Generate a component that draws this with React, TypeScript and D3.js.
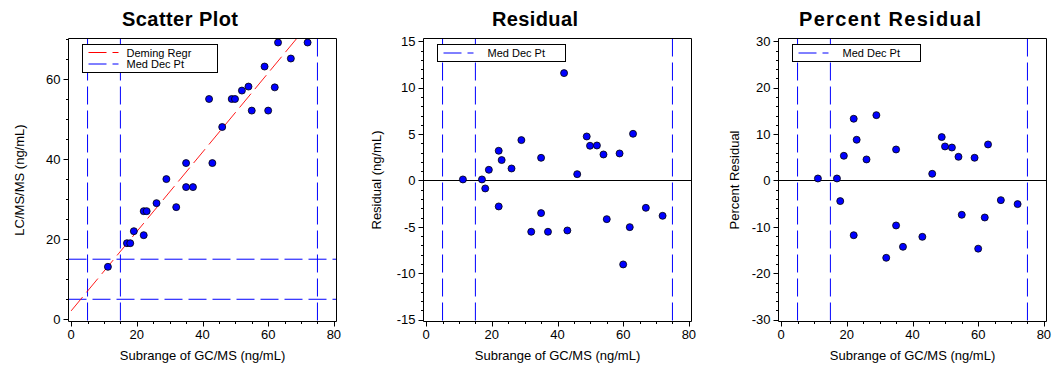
import React from 'react';
import * as d3 from 'd3';

// ---- data ----
const xValues = [11.2, 17.0, 18.0, 19.1, 22.1, 22.1, 23.0, 26.0, 29.0, 32.0, 35.0, 35.0, 37.1, 42.0, 43.0, 46.0, 48.9, 49.9, 52.0, 54.0, 55.0, 58.9, 60.0, 62.0, 63.0, 66.9, 72.0];
const lcmsValues = [13.1, 19, 19, 22, 21, 27, 27, 29, 35, 28, 39, 33, 33, 55, 39, 48, 55, 55, 57.1, 58.1, 52.1, 63.1, 52.1, 57.9, 69.1, 65.1, 69.1];
const residualValues = [0.11, 0.11, -0.86, 1.15, -2.8, 3.2, 2.2, 1.29, 4.35, -5.53, 2.44, -3.52, -5.53, 11.57, -5.39, 0.68, 4.74, 3.74, 3.77, 2.8, -4.17, 2.91, -9.05, -5.03, 5.03, -2.95, -3.81];
const pctResidualValues: (number | null)[] = [0.43, 0.43, -4.45, 5.32, -11.8, 13.3, 8.77, 4.53, 14.08, -16.67, 6.68, -9.7, -14.3, null, -12.15, 1.44, 9.35, 7.33, 7.1, 5.1, -7.4, 4.89, -14.7, -7.98, 7.76, -4.24, -5.1];

const demingIntercept = 2.1;
const demingSlope = 0.99;
const medDecPts = [5, 15, 75];

const xTicks = [0, 20, 40, 60, 80];
const scatterYTicks = [0, 20, 40, 60];
const residualYTicks = [-15, -10, -5, 0, 5, 10, 15];
const pctYTicks = [-30, -20, -10, 0, 10, 20, 30];

const titles = ['Scatter Plot', 'Residual', 'Percent Residual'];
const yLabels = ['LC/MS/MS (ng/mL)', 'Residual (ng/mL)', 'Percent Residual'];
const xLabel = 'Subrange of GC/MS (ng/mL)';
const legendDeming = 'Deming Regr';
const legendMed = 'Med Dec Pt';

// ---- layout ----
const FONT = '"Liberation Sans", Arial, Helvetica, sans-serif';
const TOP = 38.5;
const BOTTOM = 321.5;
const FRAME_L = 68.5;
const FRAME_W = 268;
const DASH = '18,6';
const TITLE_WIDTHS = [116, 86, 182];

type PanelProps = {
  ox: number;
  idx: number;
  yDomain: [number, number];
  yTicks: number[];
  yMinor: number;
  yVals: (number | null)[];
  scatter?: boolean;
  zeroLine?: boolean;
  yLabelDx: number;
  legend: { w: number; h: number; textDx: number };
};

function Panel({ ox, idx, yDomain, yTicks, yMinor, yVals, scatter, zeroLine, yLabelDx, legend }: PanelProps) {
  const left = ox + FRAME_L;
  const right = left + FRAME_W;
  const x = d3.scaleLinear().domain([-0.8, 80.8]).range([left, right]);
  const y = d3.scaleLinear().domain(yDomain).range([BOTTOM, TOP]);
  const clipId = `clip${idx}`;
  const xMinor = d3.range(0, 81, 5).filter((v) => !xTicks.includes(v));
  const yMin = d3.range(Math.ceil(yDomain[0] / yMinor) * yMinor, yDomain[1] + 1e-9, yMinor).filter((v) => !yTicks.includes(v));
  const pts = xValues.map((xv, i) => ({ x: xv, y: yVals[i] })).filter((d) => d.y !== null) as { x: number; y: number }[];
  const deming = d3.line<number>().x((v) => x(v)).y((v) => y(demingIntercept + demingSlope * v));

  const lgX = left + 14;
  const lgY = 44.5;
  const rows = scatter
    ? [{ color: '#ff0000', label: legendDeming }, { color: '#0000ff', label: legendMed }]
    : [{ color: '#0000ff', label: legendMed }];

  return (
    <g>
      <defs>
        <clipPath id={clipId}>
          <rect x={left} y={TOP} width={FRAME_W} height={BOTTOM - TOP} />
        </clipPath>
      </defs>
      <text
        x={ox + 180}
        y={26}
        textAnchor="middle"
        fontFamily={FONT}
        fontSize={20}
        fontWeight="bold"
        textLength={TITLE_WIDTHS[idx]}
        lengthAdjust="spacing"
      >
        {titles[idx]}
      </text>
      <g clipPath={`url(#${clipId})`}>
        {medDecPts.map((v) => (
          <line key={'v' + v} x1={x(v)} x2={x(v)} y1={TOP} y2={BOTTOM} stroke="#0000ff" strokeWidth={1} strokeDasharray={DASH} />
        ))}
        {scatter &&
          medDecPts.map((v) => (
            <line key={'h' + v} x1={left} x2={right} y1={y(v)} y2={y(v)} stroke="#0000ff" strokeWidth={1} strokeDasharray={DASH} />
          ))}
        {zeroLine && <line x1={left} x2={right} y1={Math.round(y(0)) + 0.5} y2={Math.round(y(0)) + 0.5} stroke="#000" strokeWidth={1} />}
        {scatter && (
          <path d={deming([0, 80]) || ''} fill="none" stroke="#ff0000" strokeWidth={0.9} strokeDasharray={DASH} />
        )}
        {pts.map((d, i) => (
          <circle key={i} cx={x(d.x)} cy={y(d.y)} r={3.5} fill="#0000ff" stroke="#000" strokeWidth={0.8} />
        ))}
      </g>
      {/* legend */}
      <rect x={lgX} y={lgY} width={legend.w} height={legend.h} fill="#fff" stroke="#000" strokeWidth={1} />
      {rows.map((r, i) => {
        const cy = lgY + (scatter ? 8 + i * 11.5 : legend.h / 2);
        return (
          <g key={r.label}>
            <line x1={lgX + 6} x2={lgX + 36} y1={cy} y2={cy} stroke={r.color} strokeWidth={1} strokeDasharray={DASH} />
            <text x={lgX + legend.textDx} y={cy + 4} fontFamily={FONT} fontSize={11} fill="#000">
              {r.label}
            </text>
          </g>
        );
      })}
      {/* frame */}
      <line x1={left} x2={right} y1={TOP} y2={TOP} stroke="#000" />
      <line x1={right} x2={right} y1={TOP} y2={BOTTOM} stroke="#000" />
      <line x1={left} x2={left} y1={TOP} y2={BOTTOM} stroke="#000" />
      <line x1={left} x2={right} y1={BOTTOM} y2={BOTTOM} stroke="#000" />
      {/* x axis ticks */}
      {xTicks.map((t) => (
        <g key={'xt' + t}>
          <line x1={Math.round(x(t)) + 0.5} x2={Math.round(x(t)) + 0.5} y1={BOTTOM} y2={BOTTOM + 5} stroke="#000" />
          <text x={x(t)} y={339} textAnchor="middle" fontFamily={FONT} fontSize={13} fill="#000">
            {t}
          </text>
        </g>
      ))}
      {xMinor.map((t) => (
        <line key={'xm' + t} x1={Math.round(x(t)) + 0.5} x2={Math.round(x(t)) + 0.5} y1={BOTTOM} y2={BOTTOM + 2.5} stroke="#000" />
      ))}
      <text x={(left + right) / 2} y={360} textAnchor="middle" fontFamily={FONT} fontSize={13} fill="#000">
        {xLabel}
      </text>
      {/* y axis ticks */}
      {yTicks.map((t) => (
        <g key={'yt' + t}>
          <line x1={left - 5} x2={left} y1={Math.round(y(t)) + 0.5} y2={Math.round(y(t)) + 0.5} stroke="#000" />
          <text x={left - 8} y={y(t)} dy="0.36em" textAnchor="end" fontFamily={FONT} fontSize={13} fill="#000">
            {t}
          </text>
        </g>
      ))}
      {yMin.map((t) => (
        <line key={'ym' + t} x1={left - 2.5} x2={left} y1={Math.round(y(t)) + 0.5} y2={Math.round(y(t)) + 0.5} stroke="#000" />
      ))}
      <text
        transform={`translate(${left + yLabelDx},${(TOP + BOTTOM) / 2}) rotate(-90)`}
        textAnchor="middle"
        dy="0.36em"
        fontFamily={FONT}
        fontSize={13}
        fill="#000"
      >
        {yLabels[idx]}
      </text>
    </g>
  );
}

export default function App() {
  return (
    <svg width={1054} height={366} style={{ position: 'absolute', left: 0, top: 0, background: '#fff' }}>
      <rect width={1054} height={366} fill="#fff" />
      <Panel
        ox={0}
        idx={0}
        yDomain={[-0.55, 70.1]}
        yTicks={scatterYTicks}
        yMinor={5}
        yVals={lcmsValues}
        scatter
        yLabelDx={-49.5}
        legend={{ w: 135, h: 28, textDx: 44 }}
      />
      <Panel
        ox={355}
        idx={1}
        yDomain={[-15.2, 15.3]}
        yTicks={residualYTicks}
        yMinor={1}
        yVals={residualValues}
        zeroLine
        yLabelDx={-47}
        legend={{ w: 128, h: 17, textDx: 50 }}
      />
      <Panel
        ox={710}
        idx={2}
        yDomain={[-30.4, 30.6]}
        yTicks={pctYTicks}
        yMinor={2}
        yVals={pctResidualValues}
        zeroLine
        yLabelDx={-44.5}
        legend={{ w: 128, h: 17, textDx: 50 }}
      />
    </svg>
  );
}
